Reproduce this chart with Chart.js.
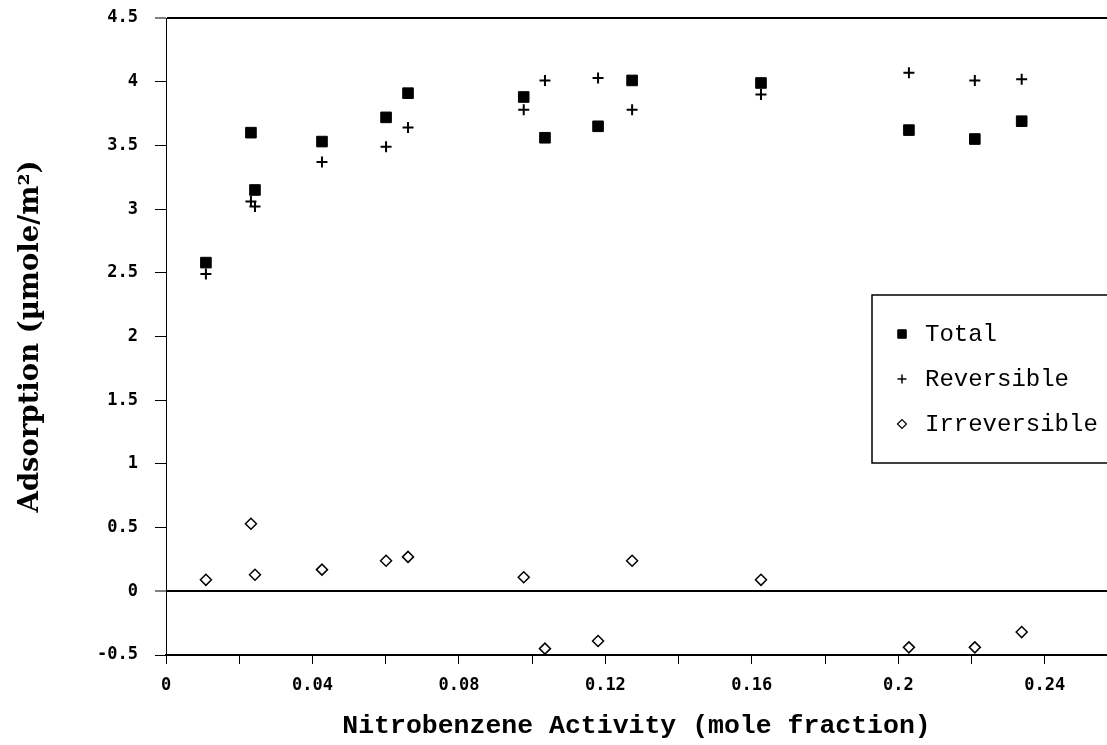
<!DOCTYPE html>
<html>
<head>
<meta charset="utf-8">
<title>Nitrobenzene adsorption</title>
<script src="https://cdn.jsdelivr.net/npm/chart.js@4.4.0/dist/chart.umd.min.js"></script>
<style>
  html, body { margin: 0; padding: 0; background: #fff; }
  canvas { display: block; }
</style>
</head>
<body>
<canvas id="adsChart" width="1107" height="745"></canvas>
<script>
/* ---------------------------------------------------
    data
----------------------------------------------------- */
const activity = [0.0109, 0.0232, 0.0243, 0.0426, 0.0601, 0.0661, 0.0977,
                  0.1035, 0.1180, 0.1273, 0.1625, 0.2029, 0.2209, 0.2337];

const total        = [2.58, 3.60, 3.15, 3.53, 3.72, 3.91, 3.88, 3.56, 3.65, 4.01, 3.99, 3.62, 3.55, 3.69];
const reversible   = [2.49, 3.06, 3.02, 3.37, 3.49, 3.64, 3.78, 4.01, 4.03, 3.78, 3.90, 4.07, 4.01, 4.02];
const irreversible = [0.09, 0.53, 0.13, 0.17, 0.24, 0.27, 0.11, -0.45, -0.39, 0.24, 0.09, -0.44, -0.44, -0.32];

const seriesNames = ["Total", "Reversible", "Irreversible"];

// one label per tick, minor ticks (every 0.02) stay blank
const xTickLabels = ["0", "", "0.04", "", "0.08", "", "0.12", "", "0.16", "", "0.2", "", "0.24"];
const yTickLabels = ["-0.5", "0", "0.5", "1", "1.5", "2", "2.5", "3", "3.5", "4", "4.5"];

function toPoints(ys) {
  return activity.map((x, i) => ({ x: x, y: ys[i] }));
}

/* ---------------------------------------------------
    legend box drawn inside the plot
----------------------------------------------------- */
const legendBox = {
  id: "legendBox",
  afterDraw(chart) {
    const ctx = chart.ctx;
    const area = chart.chartArea;
    const left = area.right - 235;
    const top = area.top + 277;

    ctx.save();
    ctx.strokeStyle = "#000";
    ctx.lineWidth = 1.5;
    ctx.strokeRect(left, top, 300, 168);

    ctx.font = "24px 'Liberation Mono'";
    ctx.textBaseline = "middle";
    ctx.textAlign = "left";

    chart.data.datasets.forEach((ds, i) => {
      const y = top + 39 + i * 45;
      ctx.fillStyle = ds.backgroundColor;
      ctx.strokeStyle = ds.borderColor;
      ctx.lineWidth = ds.legendBorder;
      Chart.helpers.drawPoint(ctx, {
        pointStyle: ds.pointStyle,
        radius: ds.legendRadius,
        borderWidth: ds.legendBorder,
        rotation: 0,
      }, left + 30, y);
      ctx.fillStyle = "#000";
      ctx.fillText(ds.label, left + 53, y + 1);
    });
    ctx.restore();
  },
};

/* ---------------------------------------------------
    chart
----------------------------------------------------- */
Chart.defaults.color = "#000";
Chart.defaults.font.family = "'DejaVu Sans Mono'";

const isFrameLine = (c) => c.tick && (c.tick.value === 0 || c.tick.value === 4.5);

new Chart(document.getElementById("adsChart"), {
  type: "scatter",
  data: {
    datasets: [
      {
        label: seriesNames[0],
        data: toPoints(total),
        pointStyle: "rect",
        pointRadius: 7.5,
        borderWidth: 1,
        backgroundColor: "#000",
        borderColor: "#000",
        legendRadius: 6,
        legendBorder: 1,
      },
      {
        label: seriesNames[1],
        data: toPoints(reversible),
        pointStyle: "cross",
        pointRadius: 5.5,
        borderWidth: 2,
        backgroundColor: "#000",
        borderColor: "#000",
        legendRadius: 4.5,
        legendBorder: 1.5,
      },
      {
        label: seriesNames[2],
        data: toPoints(irreversible),
        pointStyle: "rectRot",
        pointRadius: 5.5,
        borderWidth: 1.5,
        backgroundColor: "#fff",
        borderColor: "#000",
        legendRadius: 4.5,
        legendBorder: 1.2,
      },
    ],
  },
  options: {
    responsive: false,
    animation: false,
    events: [],
    layout: {
      autoPadding: false,
      padding: { top: 18, right: 0, bottom: 0, left: 0 },
    },
    plugins: {
      legend: { display: false },
      tooltip: { enabled: false },
    },
    scales: {
      x: {
        type: "linear",
        min: 0,
        max: 0.257,
        afterFit(scale) {
          scale.height = 90;
          scale.paddingLeft = 0;
          scale.paddingRight = 0;
        },
        border: { display: true, color: "#000", width: 2 },
        grid: {
          drawOnChartArea: false,
          drawTicks: true,
          tickLength: 9,
          tickColor: "#000",
          tickWidth: 1,
        },
        ticks: {
          stepSize: 0.02,
          includeBounds: false,
          autoSkip: false,
          maxRotation: 0,
          padding: 11,
          font: { size: 17, weight: "bold" },
          callback: (value, index) => xTickLabels[index],
        },
        title: {
          display: true,
          text: "Nitrobenzene Activity (mole fraction)",
          font: { family: "'Liberation Mono'", size: 26.5, weight: "bold" },
          padding: { top: 0, bottom: 3 },
        },
      },
      y: {
        min: -0.5,
        max: 4.5,
        afterFit(scale) {
          scale.width = 166;
          scale.paddingTop = 0;
          scale.paddingBottom = 0;
        },
        border: { display: true, color: "#000", width: 1 },
        grid: {
          drawOnChartArea: true,
          color: (c) => isFrameLine(c) ? "#000" : "rgba(0,0,0,0)",
          lineWidth: (c) => isFrameLine(c) ? 2 : 1,
          tickColor: "#000",
          tickLength: 11,
          tickWidth: 1,
        },
        ticks: {
          stepSize: 0.5,
          padding: 17,
          font: { size: 17, weight: "bold" },
          callback: (value, index) => yTickLabels[index],
        },
        title: {
          display: true,
          text: "Adsorption (µmole/m²)",
          font: { family: "'DejaVu Serif'", size: 27.5, weight: "bold" },
          padding: { top: 14, bottom: 0 },
        },
      },
    },
  },
  plugins: [legendBox],
});
</script>
</body>
</html>
